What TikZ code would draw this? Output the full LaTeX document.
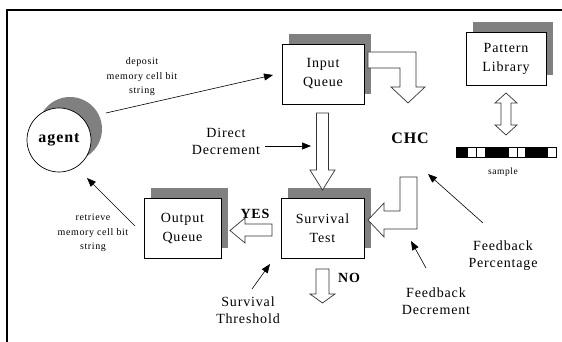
\documentclass[tikz,border=0pt]{standalone}
\usepackage{fontspec}
\setmainfont{Liberation Serif}[LetterSpace=6]
\usetikzlibrary{arrows.meta,shadows}
\definecolor{shade}{gray}{0.5}
\tikzset{
 box/.style={draw=black, line width=0.8pt, fill=white, inner sep=0pt, align=center,
   font=\fontsize{14}{19}\selectfont,
   drop shadow={shadow xshift=7pt, shadow yshift=10pt, fill=shade, opacity=1}},
 lbl/.style={align=center, inner sep=0pt, font=\fontsize{14}{17}\selectfont},
 small/.style={align=center, inner sep=0pt, font=\fontsize{10}{14.5}\selectfont},
 boldlbl/.style={inner sep=0pt, font=\fontsize{14}{17}\selectfont\bfseries},
 ptr/.style={-{Triangle[length=9pt,width=7pt]}, line width=0.6pt},
 hollow/.style={draw=black!80, fill=white, line width=0.7pt, line join=miter},
}
\begin{document}
\begin{tikzpicture}[x=1pt,y=-1pt]
\useasboundingbox (0,0) rectangle (562,342);
% frame
\draw[line width=2.5pt] (7,342) -- (7,10) -- (562,10);

% agent
\node[circle, draw, line width=0.7pt, fill=white, minimum size=64pt, inner sep=0pt,
  font=\fontsize{16}{16}\selectfont\bfseries,
  drop shadow={shadow xshift=11pt, shadow yshift=11pt, fill=shade, opacity=1}] (agent) at (59,140) {agent};

% boxes
\node[box, minimum width=82pt, minimum height=60pt] (iq) at (323,74) {Input\\Queue};
\node[box, minimum width=83pt, minimum height=60pt] (st) at (322.5,228) {Survival\\Test};
\node[box, minimum width=77pt, minimum height=60pt] (oq) at (182.5,228) {Output\\Queue};
\node[box, minimum width=80pt, minimum height=53pt] (pl) at (506,58.5) {Pattern\\Library};

% texts
\node[inner sep=0pt, font=\fontsize{16}{16}\selectfont\bfseries] (chc) at (410,138) {CHC};
\node[boldlbl] (yes) at (255,214) {YES};
\node[boldlbl] (no) at (349,278) {NO};
\node[small] (dep) at (142,77) {deposit\\memory cell bit\\string};
\node[small] (ret) at (93,233) {retrieve\\memory cell bit\\string};
\node[lbl] (dd) at (226,141) {Direct\\Decrement};
\node[lbl] (sth) at (248,310) {Survival\\Threshold};
\node[lbl] (fp) at (503,255.5) {Feedback\\Percentage};
\node[lbl] (fd) at (436,301) {Feedback\\Decrement};
\node[inner sep=0pt, font=\fontsize{9.5}{10}\selectfont] (smp) at (503,172) {sample};

% pointer arrows
\coordinate (depS) at (106,113); \coordinate (depE) at (273,75);
\coordinate (retS) at (135,226); \coordinate (retE) at (87,178);
\coordinate (ddS) at (265,146);  \coordinate (ddE) at (311,146);
\coordinate (thS) at (252,289);  \coordinate (thE) at (270,264);
\coordinate (fpS) at (483,223);  \coordinate (fpE) at (428,174);
\coordinate (fdS) at (426,268);  \coordinate (fdE) at (411,241);
\draw[ptr] (depS) -- (depE);
\draw[ptr] (retS) -- (retE);
\draw[ptr] (ddS) -- (ddE);
\draw[ptr] (thS) -- (thE);
\draw[ptr] (fpS) -- (fpE);
\draw[ptr] (fdS) -- (fdE);

% hollow block arrows
% Input Queue -> CHC (bent)
\draw[hollow] (368,52) -- (416,52) -- (416,87) -- (425,87) -- (408,103) -- (391,87) -- (400,87) -- (400,68) -- (368,68) -- cycle;
% Input Queue -> Survival Test
\draw[hollow] (316.5,113) -- (328.5,113) -- (328.5,170) -- (335,170) -- (322.5,190) -- (310,170) -- (316.5,170) -- cycle;
% feedback bent arrow into Survival Test
\draw[hollow] (400,177) -- (417,177) -- (417,229) -- (384,229) -- (384,237) -- (368,220) -- (384,203) -- (384,211) -- (400,211) -- cycle;
% YES arrow
\draw[hollow] (272,224) -- (245,224) -- (245,218) -- (230,230.5) -- (245,243) -- (245,236) -- (272,236) -- cycle;
% NO arrow
\draw[hollow] (316,269) -- (329,269) -- (329,294) -- (335,294) -- (322.5,303) -- (310,294) -- (316,294) -- cycle;
% double arrow Pattern Library <-> sample
\draw[hollow] (506,93) -- (517,103) -- (511,103) -- (511,125) -- (517,125) -- (506,135) -- (495,125) -- (501,125) -- (501,103) -- (495,103) -- cycle;

% bit string
\foreach \a/\b/\c in {456/467/black,467/476/white,476/485/white,485/508/black,508/517/white,517/525/white,525/547/black,547/556/white}
  \draw[line width=0.6pt, fill=\c] (\a,147) rectangle (\b,157);
\end{tikzpicture}
\end{document}
